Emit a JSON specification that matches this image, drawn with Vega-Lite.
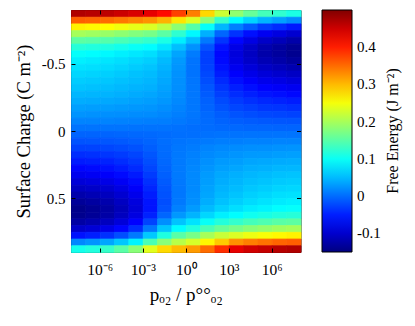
{
"$schema": "https://vega.github.io/schema/vega-lite/v6.json",
"width": 229.5, "height": 242,
"autosize": {"type": "none"},
"padding": {"left": 71, "top": 10, "right": 114.5, "bottom": 74},
"background": "white",
"config": {"font": "Liberation Serif", "view": {"stroke": "black", "strokeWidth": 1}},
"data": {"values": [
{"logp":-7.5,"sigma":-0.875,"G":0.469},{"logp":-6.5,"sigma":-0.875,"G":0.465},{"logp":-5.5,"sigma":-0.875,"G":0.461},{"logp":-4.5,"sigma":-0.875,"G":0.452},{"logp":-3.5,"sigma":-0.875,"G":0.443},{"logp":-2.5,"sigma":-0.875,"G":0.434},{"logp":-1.5,"sigma":-0.875,"G":0.413},{"logp":-0.5,"sigma":-0.875,"G":0.378},{"logp":0.5,"sigma":-0.875,"G":0.338},{"logp":1.5,"sigma":-0.875,"G":0.281},{"logp":2.5,"sigma":-0.875,"G":0.224},{"logp":3.5,"sigma":-0.875,"G":0.185},{"logp":4.5,"sigma":-0.875,"G":0.159},{"logp":5.5,"sigma":-0.875,"G":0.137},{"logp":6.5,"sigma":-0.875,"G":0.124},{"logp":7.5,"sigma":-0.875,"G":0.111},
{"logp":-7.5,"sigma":-0.825,"G":0.359},{"logp":-6.5,"sigma":-0.825,"G":0.355},{"logp":-5.5,"sigma":-0.825,"G":0.351},{"logp":-4.5,"sigma":-0.825,"G":0.343},{"logp":-3.5,"sigma":-0.825,"G":0.334},{"logp":-2.5,"sigma":-0.825,"G":0.326},{"logp":-1.5,"sigma":-0.825,"G":0.306},{"logp":-0.5,"sigma":-0.825,"G":0.273},{"logp":0.5,"sigma":-0.825,"G":0.235},{"logp":1.5,"sigma":-0.825,"G":0.182},{"logp":2.5,"sigma":-0.825,"G":0.128},{"logp":3.5,"sigma":-0.825,"G":0.091},{"logp":4.5,"sigma":-0.825,"G":0.066},{"logp":5.5,"sigma":-0.825,"G":0.046},{"logp":6.5,"sigma":-0.825,"G":0.033},{"logp":7.5,"sigma":-0.825,"G":0.021},
{"logp":-7.5,"sigma":-0.775,"G":0.264},{"logp":-6.5,"sigma":-0.775,"G":0.26},{"logp":-5.5,"sigma":-0.775,"G":0.256},{"logp":-4.5,"sigma":-0.775,"G":0.248},{"logp":-3.5,"sigma":-0.775,"G":0.241},{"logp":-2.5,"sigma":-0.775,"G":0.233},{"logp":-1.5,"sigma":-0.775,"G":0.214},{"logp":-0.5,"sigma":-0.775,"G":0.183},{"logp":0.5,"sigma":-0.775,"G":0.148},{"logp":1.5,"sigma":-0.775,"G":0.097},{"logp":2.5,"sigma":-0.775,"G":0.047},{"logp":3.5,"sigma":-0.775,"G":0.012},{"logp":4.5,"sigma":-0.775,"G":-0.011},{"logp":5.5,"sigma":-0.775,"G":-0.031},{"logp":6.5,"sigma":-0.775,"G":-0.042},{"logp":7.5,"sigma":-0.775,"G":-0.054},
{"logp":-7.5,"sigma":-0.725,"G":0.199},{"logp":-6.5,"sigma":-0.725,"G":0.195},{"logp":-5.5,"sigma":-0.725,"G":0.191},{"logp":-4.5,"sigma":-0.725,"G":0.184},{"logp":-3.5,"sigma":-0.725,"G":0.177},{"logp":-2.5,"sigma":-0.725,"G":0.17},{"logp":-1.5,"sigma":-0.725,"G":0.152},{"logp":-0.5,"sigma":-0.725,"G":0.123},{"logp":0.5,"sigma":-0.725,"G":0.09},{"logp":1.5,"sigma":-0.725,"G":0.043},{"logp":2.5,"sigma":-0.725,"G":-0.004},{"logp":3.5,"sigma":-0.725,"G":-0.037},{"logp":4.5,"sigma":-0.725,"G":-0.059},{"logp":5.5,"sigma":-0.725,"G":-0.077},{"logp":6.5,"sigma":-0.725,"G":-0.088},{"logp":7.5,"sigma":-0.725,"G":-0.099},
{"logp":-7.5,"sigma":-0.675,"G":0.153},{"logp":-6.5,"sigma":-0.675,"G":0.15},{"logp":-5.5,"sigma":-0.675,"G":0.147},{"logp":-4.5,"sigma":-0.675,"G":0.14},{"logp":-3.5,"sigma":-0.675,"G":0.133},{"logp":-2.5,"sigma":-0.675,"G":0.126},{"logp":-1.5,"sigma":-0.675,"G":0.11},{"logp":-0.5,"sigma":-0.675,"G":0.083},{"logp":0.5,"sigma":-0.675,"G":0.052},{"logp":1.5,"sigma":-0.675,"G":0.008},{"logp":2.5,"sigma":-0.675,"G":-0.036},{"logp":3.5,"sigma":-0.675,"G":-0.066},{"logp":4.5,"sigma":-0.675,"G":-0.086},{"logp":5.5,"sigma":-0.675,"G":-0.103},{"logp":6.5,"sigma":-0.675,"G":-0.113},{"logp":7.5,"sigma":-0.675,"G":-0.123},
{"logp":-7.5,"sigma":-0.625,"G":0.118},{"logp":-6.5,"sigma":-0.625,"G":0.115},{"logp":-5.5,"sigma":-0.625,"G":0.112},{"logp":-4.5,"sigma":-0.625,"G":0.106},{"logp":-3.5,"sigma":-0.625,"G":0.099},{"logp":-2.5,"sigma":-0.625,"G":0.093},{"logp":-1.5,"sigma":-0.625,"G":0.078},{"logp":-0.5,"sigma":-0.625,"G":0.053},{"logp":0.5,"sigma":-0.625,"G":0.024},{"logp":1.5,"sigma":-0.625,"G":-0.016},{"logp":2.5,"sigma":-0.625,"G":-0.057},{"logp":3.5,"sigma":-0.625,"G":-0.085},{"logp":4.5,"sigma":-0.625,"G":-0.104},{"logp":5.5,"sigma":-0.625,"G":-0.119},{"logp":6.5,"sigma":-0.625,"G":-0.129},{"logp":7.5,"sigma":-0.625,"G":-0.138},
{"logp":-7.5,"sigma":-0.575,"G":0.096},{"logp":-6.5,"sigma":-0.575,"G":0.093},{"logp":-5.5,"sigma":-0.575,"G":0.09},{"logp":-4.5,"sigma":-0.575,"G":0.084},{"logp":-3.5,"sigma":-0.575,"G":0.079},{"logp":-2.5,"sigma":-0.575,"G":0.073},{"logp":-1.5,"sigma":-0.575,"G":0.059},{"logp":-0.5,"sigma":-0.575,"G":0.036},{"logp":0.5,"sigma":-0.575,"G":0.01},{"logp":1.5,"sigma":-0.575,"G":-0.028},{"logp":2.5,"sigma":-0.575,"G":-0.065},{"logp":3.5,"sigma":-0.575,"G":-0.091},{"logp":4.5,"sigma":-0.575,"G":-0.108},{"logp":5.5,"sigma":-0.575,"G":-0.123},{"logp":6.5,"sigma":-0.575,"G":-0.131},{"logp":7.5,"sigma":-0.575,"G":-0.14},
{"logp":-7.5,"sigma":-0.525,"G":0.084},{"logp":-6.5,"sigma":-0.525,"G":0.081},{"logp":-5.5,"sigma":-0.525,"G":0.078},{"logp":-4.5,"sigma":-0.525,"G":0.073},{"logp":-3.5,"sigma":-0.525,"G":0.068},{"logp":-2.5,"sigma":-0.525,"G":0.063},{"logp":-1.5,"sigma":-0.525,"G":0.05},{"logp":-0.5,"sigma":-0.525,"G":0.029},{"logp":0.5,"sigma":-0.525,"G":0.005},{"logp":1.5,"sigma":-0.525,"G":-0.029},{"logp":2.5,"sigma":-0.525,"G":-0.063},{"logp":3.5,"sigma":-0.525,"G":-0.087},{"logp":4.5,"sigma":-0.525,"G":-0.103},{"logp":5.5,"sigma":-0.525,"G":-0.116},{"logp":6.5,"sigma":-0.525,"G":-0.124},{"logp":7.5,"sigma":-0.525,"G":-0.132},
{"logp":-7.5,"sigma":-0.475,"G":0.075},{"logp":-6.5,"sigma":-0.475,"G":0.073},{"logp":-5.5,"sigma":-0.475,"G":0.071},{"logp":-4.5,"sigma":-0.475,"G":0.066},{"logp":-3.5,"sigma":-0.475,"G":0.061},{"logp":-2.5,"sigma":-0.475,"G":0.056},{"logp":-1.5,"sigma":-0.475,"G":0.045},{"logp":-0.5,"sigma":-0.475,"G":0.026},{"logp":0.5,"sigma":-0.475,"G":0.004},{"logp":1.5,"sigma":-0.475,"G":-0.027},{"logp":2.5,"sigma":-0.475,"G":-0.058},{"logp":3.5,"sigma":-0.475,"G":-0.079},{"logp":4.5,"sigma":-0.475,"G":-0.093},{"logp":5.5,"sigma":-0.475,"G":-0.105},{"logp":6.5,"sigma":-0.475,"G":-0.112},{"logp":7.5,"sigma":-0.475,"G":-0.119},
{"logp":-7.5,"sigma":-0.425,"G":0.068},{"logp":-6.5,"sigma":-0.425,"G":0.066},{"logp":-5.5,"sigma":-0.425,"G":0.064},{"logp":-4.5,"sigma":-0.425,"G":0.06},{"logp":-3.5,"sigma":-0.425,"G":0.055},{"logp":-2.5,"sigma":-0.425,"G":0.051},{"logp":-1.5,"sigma":-0.425,"G":0.041},{"logp":-0.5,"sigma":-0.425,"G":0.024},{"logp":0.5,"sigma":-0.425,"G":0.004},{"logp":1.5,"sigma":-0.425,"G":-0.023},{"logp":2.5,"sigma":-0.425,"G":-0.051},{"logp":3.5,"sigma":-0.425,"G":-0.07},{"logp":4.5,"sigma":-0.425,"G":-0.083},{"logp":5.5,"sigma":-0.425,"G":-0.093},{"logp":6.5,"sigma":-0.425,"G":-0.1},{"logp":7.5,"sigma":-0.425,"G":-0.106},
{"logp":-7.5,"sigma":-0.375,"G":0.062},{"logp":-6.5,"sigma":-0.375,"G":0.06},{"logp":-5.5,"sigma":-0.375,"G":0.058},{"logp":-4.5,"sigma":-0.375,"G":0.054},{"logp":-3.5,"sigma":-0.375,"G":0.051},{"logp":-2.5,"sigma":-0.375,"G":0.047},{"logp":-1.5,"sigma":-0.375,"G":0.038},{"logp":-0.5,"sigma":-0.375,"G":0.023},{"logp":0.5,"sigma":-0.375,"G":0.006},{"logp":1.5,"sigma":-0.375,"G":-0.019},{"logp":2.5,"sigma":-0.375,"G":-0.043},{"logp":3.5,"sigma":-0.375,"G":-0.06},{"logp":4.5,"sigma":-0.375,"G":-0.071},{"logp":5.5,"sigma":-0.375,"G":-0.081},{"logp":6.5,"sigma":-0.375,"G":-0.086},{"logp":7.5,"sigma":-0.375,"G":-0.092},
{"logp":-7.5,"sigma":-0.325,"G":0.056},{"logp":-6.5,"sigma":-0.325,"G":0.054},{"logp":-5.5,"sigma":-0.325,"G":0.052},{"logp":-4.5,"sigma":-0.325,"G":0.049},{"logp":-3.5,"sigma":-0.325,"G":0.046},{"logp":-2.5,"sigma":-0.325,"G":0.043},{"logp":-1.5,"sigma":-0.325,"G":0.035},{"logp":-0.5,"sigma":-0.325,"G":0.022},{"logp":0.5,"sigma":-0.325,"G":0.007},{"logp":1.5,"sigma":-0.325,"G":-0.014},{"logp":2.5,"sigma":-0.325,"G":-0.035},{"logp":3.5,"sigma":-0.325,"G":-0.05},{"logp":4.5,"sigma":-0.325,"G":-0.06},{"logp":5.5,"sigma":-0.325,"G":-0.068},{"logp":6.5,"sigma":-0.325,"G":-0.073},{"logp":7.5,"sigma":-0.325,"G":-0.078},
{"logp":-7.5,"sigma":-0.275,"G":0.048},{"logp":-6.5,"sigma":-0.275,"G":0.047},{"logp":-5.5,"sigma":-0.275,"G":0.046},{"logp":-4.5,"sigma":-0.275,"G":0.043},{"logp":-3.5,"sigma":-0.275,"G":0.04},{"logp":-2.5,"sigma":-0.275,"G":0.037},{"logp":-1.5,"sigma":-0.275,"G":0.031},{"logp":-0.5,"sigma":-0.275,"G":0.02},{"logp":0.5,"sigma":-0.275,"G":0.007},{"logp":1.5,"sigma":-0.275,"G":-0.011},{"logp":2.5,"sigma":-0.275,"G":-0.029},{"logp":3.5,"sigma":-0.275,"G":-0.041},{"logp":4.5,"sigma":-0.275,"G":-0.049},{"logp":5.5,"sigma":-0.275,"G":-0.056},{"logp":6.5,"sigma":-0.275,"G":-0.06},{"logp":7.5,"sigma":-0.275,"G":-0.064},
{"logp":-7.5,"sigma":-0.225,"G":0.041},{"logp":-6.5,"sigma":-0.225,"G":0.04},{"logp":-5.5,"sigma":-0.225,"G":0.039},{"logp":-4.5,"sigma":-0.225,"G":0.037},{"logp":-3.5,"sigma":-0.225,"G":0.034},{"logp":-2.5,"sigma":-0.225,"G":0.032},{"logp":-1.5,"sigma":-0.225,"G":0.027},{"logp":-0.5,"sigma":-0.225,"G":0.018},{"logp":0.5,"sigma":-0.225,"G":0.007},{"logp":1.5,"sigma":-0.225,"G":-0.007},{"logp":2.5,"sigma":-0.225,"G":-0.022},{"logp":3.5,"sigma":-0.225,"G":-0.032},{"logp":4.5,"sigma":-0.225,"G":-0.039},{"logp":5.5,"sigma":-0.225,"G":-0.044},{"logp":6.5,"sigma":-0.225,"G":-0.048},{"logp":7.5,"sigma":-0.225,"G":-0.051},
{"logp":-7.5,"sigma":-0.175,"G":0.033},{"logp":-6.5,"sigma":-0.175,"G":0.032},{"logp":-5.5,"sigma":-0.175,"G":0.031},{"logp":-4.5,"sigma":-0.175,"G":0.029},{"logp":-3.5,"sigma":-0.175,"G":0.028},{"logp":-2.5,"sigma":-0.175,"G":0.026},{"logp":-1.5,"sigma":-0.175,"G":0.022},{"logp":-0.5,"sigma":-0.175,"G":0.015},{"logp":0.5,"sigma":-0.175,"G":0.007},{"logp":1.5,"sigma":-0.175,"G":-0.005},{"logp":2.5,"sigma":-0.175,"G":-0.016},{"logp":3.5,"sigma":-0.175,"G":-0.024},{"logp":4.5,"sigma":-0.175,"G":-0.029},{"logp":5.5,"sigma":-0.175,"G":-0.034},{"logp":6.5,"sigma":-0.175,"G":-0.036},{"logp":7.5,"sigma":-0.175,"G":-0.039},
{"logp":-7.5,"sigma":-0.125,"G":0.025},{"logp":-6.5,"sigma":-0.125,"G":0.024},{"logp":-5.5,"sigma":-0.125,"G":0.023},{"logp":-4.5,"sigma":-0.125,"G":0.022},{"logp":-3.5,"sigma":-0.125,"G":0.021},{"logp":-2.5,"sigma":-0.125,"G":0.02},{"logp":-1.5,"sigma":-0.125,"G":0.017},{"logp":-0.5,"sigma":-0.125,"G":0.012},{"logp":0.5,"sigma":-0.125,"G":0.006},{"logp":1.5,"sigma":-0.125,"G":-0.002},{"logp":2.5,"sigma":-0.125,"G":-0.01},{"logp":3.5,"sigma":-0.125,"G":-0.016},{"logp":4.5,"sigma":-0.125,"G":-0.02},{"logp":5.5,"sigma":-0.125,"G":-0.023},{"logp":6.5,"sigma":-0.125,"G":-0.025},{"logp":7.5,"sigma":-0.125,"G":-0.027},
{"logp":-7.5,"sigma":-0.075,"G":0.015},{"logp":-6.5,"sigma":-0.075,"G":0.015},{"logp":-5.5,"sigma":-0.075,"G":0.015},{"logp":-4.5,"sigma":-0.075,"G":0.014},{"logp":-3.5,"sigma":-0.075,"G":0.013},{"logp":-2.5,"sigma":-0.075,"G":0.012},{"logp":-1.5,"sigma":-0.075,"G":0.011},{"logp":-0.5,"sigma":-0.075,"G":0.008},{"logp":0.5,"sigma":-0.075,"G":0.004},{"logp":1.5,"sigma":-0.075,"G":-0.001},{"logp":2.5,"sigma":-0.075,"G":-0.006},{"logp":3.5,"sigma":-0.075,"G":-0.009},{"logp":4.5,"sigma":-0.075,"G":-0.011},{"logp":5.5,"sigma":-0.075,"G":-0.013},{"logp":6.5,"sigma":-0.075,"G":-0.014},{"logp":7.5,"sigma":-0.075,"G":-0.015},
{"logp":-7.5,"sigma":-0.025,"G":0.005},{"logp":-6.5,"sigma":-0.025,"G":0.005},{"logp":-5.5,"sigma":-0.025,"G":0.005},{"logp":-4.5,"sigma":-0.025,"G":0.005},{"logp":-3.5,"sigma":-0.025,"G":0.004},{"logp":-2.5,"sigma":-0.025,"G":0.004},{"logp":-1.5,"sigma":-0.025,"G":0.004},{"logp":-0.5,"sigma":-0.025,"G":0.003},{"logp":0.5,"sigma":-0.025,"G":0.001},{"logp":1.5,"sigma":-0.025,"G":0.0},{"logp":2.5,"sigma":-0.025,"G":-0.002},{"logp":3.5,"sigma":-0.025,"G":-0.003},{"logp":4.5,"sigma":-0.025,"G":-0.004},{"logp":5.5,"sigma":-0.025,"G":-0.004},{"logp":6.5,"sigma":-0.025,"G":-0.005},{"logp":7.5,"sigma":-0.025,"G":-0.005},
{"logp":-7.5,"sigma":0.025,"G":-0.005},{"logp":-6.5,"sigma":0.025,"G":-0.005},{"logp":-5.5,"sigma":0.025,"G":-0.005},{"logp":-4.5,"sigma":0.025,"G":-0.004},{"logp":-3.5,"sigma":0.025,"G":-0.003},{"logp":-2.5,"sigma":0.025,"G":-0.002},{"logp":-1.5,"sigma":0.025,"G":0.0},{"logp":-0.5,"sigma":0.025,"G":0.002},{"logp":0.5,"sigma":0.025,"G":0.002},{"logp":1.5,"sigma":0.025,"G":0.003},{"logp":2.5,"sigma":0.025,"G":0.004},{"logp":3.5,"sigma":0.025,"G":0.004},{"logp":4.5,"sigma":0.025,"G":0.005},{"logp":5.5,"sigma":0.025,"G":0.005},{"logp":6.5,"sigma":0.025,"G":0.005},{"logp":7.5,"sigma":0.025,"G":0.005},
{"logp":-7.5,"sigma":0.075,"G":-0.016},{"logp":-6.5,"sigma":0.075,"G":-0.015},{"logp":-5.5,"sigma":0.075,"G":-0.014},{"logp":-4.5,"sigma":0.075,"G":-0.012},{"logp":-3.5,"sigma":0.075,"G":-0.009},{"logp":-2.5,"sigma":0.075,"G":-0.005},{"logp":-1.5,"sigma":0.075,"G":0.001},{"logp":-0.5,"sigma":0.075,"G":0.005},{"logp":0.5,"sigma":0.075,"G":0.007},{"logp":1.5,"sigma":0.075,"G":0.009},{"logp":2.5,"sigma":0.075,"G":0.011},{"logp":3.5,"sigma":0.075,"G":0.012},{"logp":4.5,"sigma":0.075,"G":0.014},{"logp":5.5,"sigma":0.075,"G":0.014},{"logp":6.5,"sigma":0.075,"G":0.015},{"logp":7.5,"sigma":0.075,"G":0.015},
{"logp":-7.5,"sigma":0.125,"G":-0.027},{"logp":-6.5,"sigma":0.125,"G":-0.026},{"logp":-5.5,"sigma":0.125,"G":-0.024},{"logp":-4.5,"sigma":0.125,"G":-0.021},{"logp":-3.5,"sigma":0.125,"G":-0.017},{"logp":-2.5,"sigma":0.125,"G":-0.009},{"logp":-1.5,"sigma":0.125,"G":0.0},{"logp":-0.5,"sigma":0.125,"G":0.007},{"logp":0.5,"sigma":0.125,"G":0.01},{"logp":1.5,"sigma":0.125,"G":0.015},{"logp":2.5,"sigma":0.125,"G":0.018},{"logp":3.5,"sigma":0.125,"G":0.02},{"logp":4.5,"sigma":0.125,"G":0.022},{"logp":5.5,"sigma":0.125,"G":0.023},{"logp":6.5,"sigma":0.125,"G":0.024},{"logp":7.5,"sigma":0.125,"G":0.025},
{"logp":-7.5,"sigma":0.175,"G":-0.04},{"logp":-6.5,"sigma":0.175,"G":-0.038},{"logp":-5.5,"sigma":0.175,"G":-0.035},{"logp":-4.5,"sigma":0.175,"G":-0.031},{"logp":-3.5,"sigma":0.175,"G":-0.025},{"logp":-2.5,"sigma":0.175,"G":-0.014},{"logp":-1.5,"sigma":0.175,"G":-0.001},{"logp":-0.5,"sigma":0.175,"G":0.008},{"logp":0.5,"sigma":0.175,"G":0.013},{"logp":1.5,"sigma":0.175,"G":0.019},{"logp":2.5,"sigma":0.175,"G":0.023},{"logp":3.5,"sigma":0.175,"G":0.026},{"logp":4.5,"sigma":0.175,"G":0.029},{"logp":5.5,"sigma":0.175,"G":0.03},{"logp":6.5,"sigma":0.175,"G":0.032},{"logp":7.5,"sigma":0.175,"G":0.033},
{"logp":-7.5,"sigma":0.225,"G":-0.052},{"logp":-6.5,"sigma":0.225,"G":-0.05},{"logp":-5.5,"sigma":0.225,"G":-0.047},{"logp":-4.5,"sigma":0.225,"G":-0.041},{"logp":-3.5,"sigma":0.225,"G":-0.033},{"logp":-2.5,"sigma":0.225,"G":-0.019},{"logp":-1.5,"sigma":0.225,"G":-0.003},{"logp":-0.5,"sigma":0.225,"G":0.009},{"logp":0.5,"sigma":0.225,"G":0.015},{"logp":1.5,"sigma":0.225,"G":0.023},{"logp":2.5,"sigma":0.225,"G":0.029},{"logp":3.5,"sigma":0.225,"G":0.032},{"logp":4.5,"sigma":0.225,"G":0.036},{"logp":5.5,"sigma":0.225,"G":0.038},{"logp":6.5,"sigma":0.225,"G":0.04},{"logp":7.5,"sigma":0.225,"G":0.041},
{"logp":-7.5,"sigma":0.275,"G":-0.066},{"logp":-6.5,"sigma":0.275,"G":-0.063},{"logp":-5.5,"sigma":0.275,"G":-0.059},{"logp":-4.5,"sigma":0.275,"G":-0.052},{"logp":-3.5,"sigma":0.275,"G":-0.042},{"logp":-2.5,"sigma":0.275,"G":-0.025},{"logp":-1.5,"sigma":0.275,"G":-0.005},{"logp":-0.5,"sigma":0.275,"G":0.009},{"logp":0.5,"sigma":0.275,"G":0.017},{"logp":1.5,"sigma":0.275,"G":0.026},{"logp":2.5,"sigma":0.275,"G":0.033},{"logp":3.5,"sigma":0.275,"G":0.037},{"logp":4.5,"sigma":0.275,"G":0.042},{"logp":5.5,"sigma":0.275,"G":0.044},{"logp":6.5,"sigma":0.275,"G":0.047},{"logp":7.5,"sigma":0.275,"G":0.048},
{"logp":-7.5,"sigma":0.325,"G":-0.079},{"logp":-6.5,"sigma":0.325,"G":-0.076},{"logp":-5.5,"sigma":0.325,"G":-0.071},{"logp":-4.5,"sigma":0.325,"G":-0.063},{"logp":-3.5,"sigma":0.325,"G":-0.052},{"logp":-2.5,"sigma":0.325,"G":-0.031},{"logp":-1.5,"sigma":0.325,"G":-0.008},{"logp":-0.5,"sigma":0.325,"G":0.009},{"logp":0.5,"sigma":0.325,"G":0.018},{"logp":1.5,"sigma":0.325,"G":0.03},{"logp":2.5,"sigma":0.325,"G":0.038},{"logp":3.5,"sigma":0.325,"G":0.043},{"logp":4.5,"sigma":0.325,"G":0.048},{"logp":5.5,"sigma":0.325,"G":0.051},{"logp":6.5,"sigma":0.325,"G":0.054},{"logp":7.5,"sigma":0.325,"G":0.056},
{"logp":-7.5,"sigma":0.375,"G":-0.094},{"logp":-6.5,"sigma":0.375,"G":-0.09},{"logp":-5.5,"sigma":0.375,"G":-0.084},{"logp":-4.5,"sigma":0.375,"G":-0.075},{"logp":-3.5,"sigma":0.375,"G":-0.062},{"logp":-2.5,"sigma":0.375,"G":-0.038},{"logp":-1.5,"sigma":0.375,"G":-0.011},{"logp":-0.5,"sigma":0.375,"G":0.008},{"logp":0.5,"sigma":0.375,"G":0.019},{"logp":1.5,"sigma":0.375,"G":0.032},{"logp":2.5,"sigma":0.375,"G":0.041},{"logp":3.5,"sigma":0.375,"G":0.047},{"logp":4.5,"sigma":0.375,"G":0.053},{"logp":5.5,"sigma":0.375,"G":0.056},{"logp":6.5,"sigma":0.375,"G":0.06},{"logp":7.5,"sigma":0.375,"G":0.062},
{"logp":-7.5,"sigma":0.425,"G":-0.108},{"logp":-6.5,"sigma":0.425,"G":-0.104},{"logp":-5.5,"sigma":0.425,"G":-0.098},{"logp":-4.5,"sigma":0.425,"G":-0.087},{"logp":-3.5,"sigma":0.425,"G":-0.072},{"logp":-2.5,"sigma":0.425,"G":-0.045},{"logp":-1.5,"sigma":0.425,"G":-0.015},{"logp":-0.5,"sigma":0.425,"G":0.007},{"logp":0.5,"sigma":0.425,"G":0.019},{"logp":1.5,"sigma":0.425,"G":0.034},{"logp":2.5,"sigma":0.425,"G":0.045},{"logp":3.5,"sigma":0.425,"G":0.051},{"logp":4.5,"sigma":0.425,"G":0.058},{"logp":5.5,"sigma":0.425,"G":0.062},{"logp":6.5,"sigma":0.425,"G":0.066},{"logp":7.5,"sigma":0.425,"G":0.068},
{"logp":-7.5,"sigma":0.475,"G":-0.122},{"logp":-6.5,"sigma":0.475,"G":-0.117},{"logp":-5.5,"sigma":0.475,"G":-0.11},{"logp":-4.5,"sigma":0.475,"G":-0.098},{"logp":-3.5,"sigma":0.475,"G":-0.081},{"logp":-2.5,"sigma":0.475,"G":-0.051},{"logp":-1.5,"sigma":0.475,"G":-0.017},{"logp":-0.5,"sigma":0.475,"G":0.007},{"logp":0.5,"sigma":0.475,"G":0.021},{"logp":1.5,"sigma":0.475,"G":0.037},{"logp":2.5,"sigma":0.475,"G":0.049},{"logp":3.5,"sigma":0.475,"G":0.056},{"logp":4.5,"sigma":0.475,"G":0.064},{"logp":5.5,"sigma":0.475,"G":0.068},{"logp":6.5,"sigma":0.475,"G":0.073},{"logp":7.5,"sigma":0.475,"G":0.075},
{"logp":-7.5,"sigma":0.525,"G":-0.134},{"logp":-6.5,"sigma":0.525,"G":-0.129},{"logp":-5.5,"sigma":0.525,"G":-0.121},{"logp":-4.5,"sigma":0.525,"G":-0.108},{"logp":-3.5,"sigma":0.525,"G":-0.09},{"logp":-2.5,"sigma":0.525,"G":-0.056},{"logp":-1.5,"sigma":0.525,"G":-0.019},{"logp":-0.5,"sigma":0.525,"G":0.008},{"logp":0.5,"sigma":0.525,"G":0.023},{"logp":1.5,"sigma":0.525,"G":0.042},{"logp":2.5,"sigma":0.525,"G":0.055},{"logp":3.5,"sigma":0.525,"G":0.063},{"logp":4.5,"sigma":0.525,"G":0.071},{"logp":5.5,"sigma":0.525,"G":0.076},{"logp":6.5,"sigma":0.525,"G":0.081},{"logp":7.5,"sigma":0.525,"G":0.084},
{"logp":-7.5,"sigma":0.575,"G":-0.143},{"logp":-6.5,"sigma":0.575,"G":-0.137},{"logp":-5.5,"sigma":0.575,"G":-0.128},{"logp":-4.5,"sigma":0.575,"G":-0.114},{"logp":-3.5,"sigma":0.575,"G":-0.094},{"logp":-2.5,"sigma":0.575,"G":-0.057},{"logp":-1.5,"sigma":0.575,"G":-0.016},{"logp":-0.5,"sigma":0.575,"G":0.013},{"logp":0.5,"sigma":0.575,"G":0.03},{"logp":1.5,"sigma":0.575,"G":0.05},{"logp":2.5,"sigma":0.575,"G":0.064},{"logp":3.5,"sigma":0.575,"G":0.073},{"logp":4.5,"sigma":0.575,"G":0.082},{"logp":5.5,"sigma":0.575,"G":0.087},{"logp":6.5,"sigma":0.575,"G":0.093},{"logp":7.5,"sigma":0.575,"G":0.096},
{"logp":-7.5,"sigma":0.625,"G":-0.141},{"logp":-6.5,"sigma":0.625,"G":-0.135},{"logp":-5.5,"sigma":0.625,"G":-0.126},{"logp":-4.5,"sigma":0.625,"G":-0.11},{"logp":-3.5,"sigma":0.625,"G":-0.088},{"logp":-2.5,"sigma":0.625,"G":-0.048},{"logp":-1.5,"sigma":0.625,"G":-0.004},{"logp":-0.5,"sigma":0.625,"G":0.028},{"logp":0.5,"sigma":0.625,"G":0.046},{"logp":1.5,"sigma":0.625,"G":0.068},{"logp":2.5,"sigma":0.625,"G":0.084},{"logp":3.5,"sigma":0.625,"G":0.093},{"logp":4.5,"sigma":0.625,"G":0.103},{"logp":5.5,"sigma":0.625,"G":0.109},{"logp":6.5,"sigma":0.625,"G":0.115},{"logp":7.5,"sigma":0.625,"G":0.118},
{"logp":-7.5,"sigma":0.675,"G":-0.127},{"logp":-6.5,"sigma":0.675,"G":-0.12},{"logp":-5.5,"sigma":0.675,"G":-0.11},{"logp":-4.5,"sigma":0.675,"G":-0.093},{"logp":-3.5,"sigma":0.675,"G":-0.069},{"logp":-2.5,"sigma":0.675,"G":-0.026},{"logp":-1.5,"sigma":0.675,"G":0.022},{"logp":-0.5,"sigma":0.675,"G":0.056},{"logp":0.5,"sigma":0.675,"G":0.076},{"logp":1.5,"sigma":0.675,"G":0.099},{"logp":2.5,"sigma":0.675,"G":0.116},{"logp":3.5,"sigma":0.675,"G":0.126},{"logp":4.5,"sigma":0.675,"G":0.137},{"logp":5.5,"sigma":0.675,"G":0.143},{"logp":6.5,"sigma":0.675,"G":0.15},{"logp":7.5,"sigma":0.675,"G":0.153},
{"logp":-7.5,"sigma":0.725,"G":-0.102},{"logp":-6.5,"sigma":0.725,"G":-0.095},{"logp":-5.5,"sigma":0.725,"G":-0.084},{"logp":-4.5,"sigma":0.725,"G":-0.066},{"logp":-3.5,"sigma":0.725,"G":-0.041},{"logp":-2.5,"sigma":0.725,"G":0.007},{"logp":-1.5,"sigma":0.725,"G":0.057},{"logp":-0.5,"sigma":0.725,"G":0.094},{"logp":0.5,"sigma":0.725,"G":0.115},{"logp":1.5,"sigma":0.725,"G":0.141},{"logp":2.5,"sigma":0.725,"G":0.159},{"logp":3.5,"sigma":0.725,"G":0.17},{"logp":4.5,"sigma":0.725,"G":0.181},{"logp":5.5,"sigma":0.725,"G":0.188},{"logp":6.5,"sigma":0.725,"G":0.195},{"logp":7.5,"sigma":0.725,"G":0.199},
{"logp":-7.5,"sigma":0.775,"G":-0.058},{"logp":-6.5,"sigma":0.775,"G":-0.05},{"logp":-5.5,"sigma":0.775,"G":-0.038},{"logp":-4.5,"sigma":0.775,"G":-0.019},{"logp":-3.5,"sigma":0.775,"G":0.008},{"logp":-2.5,"sigma":0.775,"G":0.059},{"logp":-1.5,"sigma":0.775,"G":0.113},{"logp":-0.5,"sigma":0.775,"G":0.15},{"logp":0.5,"sigma":0.775,"G":0.17},{"logp":1.5,"sigma":0.775,"G":0.2},{"logp":2.5,"sigma":0.775,"G":0.221},{"logp":3.5,"sigma":0.775,"G":0.233},{"logp":4.5,"sigma":0.775,"G":0.245},{"logp":5.5,"sigma":0.775,"G":0.252},{"logp":6.5,"sigma":0.775,"G":0.26},{"logp":7.5,"sigma":0.775,"G":0.264},
{"logp":-7.5,"sigma":0.825,"G":0.017},{"logp":-6.5,"sigma":0.825,"G":0.025},{"logp":-5.5,"sigma":0.825,"G":0.037},{"logp":-4.5,"sigma":0.825,"G":0.058},{"logp":-3.5,"sigma":0.825,"G":0.087},{"logp":-2.5,"sigma":0.825,"G":0.141},{"logp":-1.5,"sigma":0.825,"G":0.18},{"logp":-0.5,"sigma":0.825,"G":0.21},{"logp":0.5,"sigma":0.825,"G":0.23},{"logp":1.5,"sigma":0.825,"G":0.26},{"logp":2.5,"sigma":0.825,"G":0.29},{"logp":3.5,"sigma":0.825,"G":0.326},{"logp":4.5,"sigma":0.825,"G":0.339},{"logp":5.5,"sigma":0.825,"G":0.347},{"logp":6.5,"sigma":0.825,"G":0.355},{"logp":7.5,"sigma":0.825,"G":0.359},
{"logp":-7.5,"sigma":0.875,"G":0.106},{"logp":-6.5,"sigma":0.875,"G":0.115},{"logp":-5.5,"sigma":0.875,"G":0.128},{"logp":-4.5,"sigma":0.875,"G":0.15},{"logp":-3.5,"sigma":0.875,"G":0.181},{"logp":-2.5,"sigma":0.875,"G":0.238},{"logp":-1.5,"sigma":0.875,"G":0.28},{"logp":-0.5,"sigma":0.875,"G":0.3},{"logp":0.5,"sigma":0.875,"G":0.32},{"logp":1.5,"sigma":0.875,"G":0.35},{"logp":2.5,"sigma":0.875,"G":0.39},{"logp":3.5,"sigma":0.875,"G":0.434},{"logp":4.5,"sigma":0.875,"G":0.448},{"logp":5.5,"sigma":0.875,"G":0.456},{"logp":6.5,"sigma":0.875,"G":0.465},{"logp":7.5,"sigma":0.875,"G":0.469}
]},
"layer": [
{"mark": {"type": "rect", "strokeWidth": 0.8, "stroke": {"expr": "scale('color', datum.G)"}},
 "encoding": {
  "x": {"field": "logp", "type": "quantitative", "bin": {"step": 1, "extent": [-8, 8], "nice": false},
        "scale": {"domain": [-8, 8], "nice": false, "zero": false},
        "axis": {"values": [-6, -3, 0, 3, 6], "labelExpr": "datum.value == -6 ? '10⁻⁶' : datum.value == -3 ? '10⁻³' : datum.value == 0 ? '10⁰' : datum.value == 3 ? '10³' : '10⁶'",
                 "title": "pₒ₂ / p°°ₒ₂", "tickSize": -4, "tickColor": "black", "domain": false, "grid": false,
                 "labelFontSize": 15.5, "labelColor": "black", "labelPadding": 14, "labelFlush": false,
                 "titleFontSize": 19, "titleFontWeight": "normal", "titleColor": "black", "titlePadding": 8}},
  "y": {"field": "sigma", "type": "quantitative", "bin": {"step": 0.05, "extent": [-0.9, 0.9], "nice": false},
        "scale": {"domain": [-0.9, 0.9], "reverse": true, "nice": false, "zero": false},
        "axis": {"values": [-0.5, 0, 0.5], "labelExpr": "datum.value == 0 ? '0' : datum.value < 0 ? '-0.5' : '0.5'",
                 "title": "Surface Charge (C m⁻²)", "tickSize": -4, "tickColor": "black", "domain": false, "grid": false,
                 "labelFontSize": 15, "labelColor": "black", "labelPadding": 10,
                 "titleFontSize": 18.5, "titleFontWeight": "normal", "titleColor": "black", "titlePadding": 8}},
  "color": {"field": "G", "type": "quantitative",
        "scale": {"domain": [-0.15, -0.06875, 0.0125, 0.09375, 0.175, 0.25625, 0.3375, 0.41875, 0.5],
                  "range": ["#000080", "#0000ff", "#0080ff", "#00ffff", "#80ff80", "#ffff00", "#ff8000", "#ff0000", "#800000"],
                  "interpolate": "rgb", "clamp": true},
        "legend": {"title": "Free Energy (J m⁻²)", "values": [-0.1, 0, 0.1, 0.2, 0.3, 0.4],
                   "labelExpr": "datum.value == 0 ? '0' : datum.value < 0 ? '-0.1' : format(datum.value, '.1f')",
                   "gradientLength": 242, "gradientThickness": 30, "gradientStrokeColor": "black", "gradientStrokeWidth": 1,
                   "offset": 21, "padding": 0, "labelFontSize": 15, "labelColor": "black", "labelOffset": 5,
                   "titleOrient": "right", "titleAnchor": "middle", "titleAlign": "center", "titleBaseline": "bottom",
                   "titleFontSize": 16, "titleFontWeight": "normal", "titleColor": "black", "titlePadding": 20,
                   "encode": {"title": {"update": {"angle": {"value": -90}}}}}}
 }},
{"mark": {"type": "rect", "opacity": 0},
 "encoding": {
  "x": {"field": "logp", "type": "quantitative", "bin": {"step": 1, "extent": [-8, 8], "nice": false},
        "axis": {"orient": "top", "values": [-6, -3, 0, 3, 6], "labels": false, "title": null, "tickSize": -4, "tickColor": "black", "domain": false, "grid": false}},
  "y": {"field": "sigma", "type": "quantitative", "bin": {"step": 0.05, "extent": [-0.9, 0.9], "nice": false},
        "axis": {"orient": "right", "values": [-0.5, 0, 0.5], "labels": false, "title": null, "tickSize": -4, "tickColor": "black", "domain": false, "grid": false}}
 }}
],
"resolve": {"axis": {"x": "independent", "y": "independent"}}
}
